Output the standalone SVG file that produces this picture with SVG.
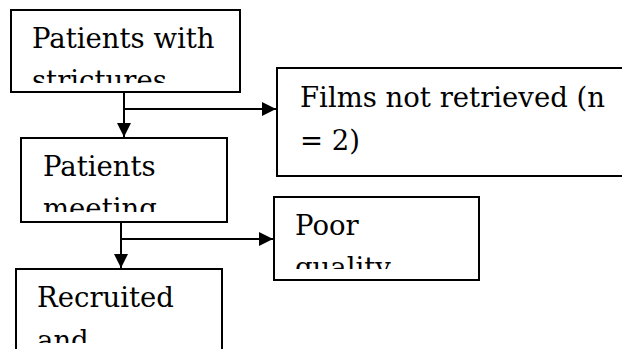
<svg xmlns="http://www.w3.org/2000/svg" width="622" height="349" viewBox="0 0 622 349">
<style>
.box{fill:#fff;stroke:#000;stroke-width:2}
.t{font-family:"DejaVu Serif","Liberation Serif",serif;font-size:27.5px;fill:#000}
.ln{stroke:#000;stroke-width:2;fill:none}
</style>
<defs>
<marker id="ah" viewBox="0 0 10 10" refX="10" refY="5" markerWidth="7" markerHeight="7" orient="auto" markerUnits="strokeWidth"><path d="M0,0 L10,5 L0,10 z" fill="#000"/></marker>
<clipPath id="c1"><rect x="12" y="11" width="227" height="72"/></clipPath>
<clipPath id="c2"><rect x="278" y="69" width="344" height="106"/></clipPath>
<clipPath id="c3"><rect x="22" y="139" width="204" height="73"/></clipPath>
<clipPath id="c4"><rect x="275" y="198" width="203" height="71"/></clipPath>
<clipPath id="c5"><rect x="17" y="270" width="204" height="73"/></clipPath>
</defs>
<rect width="622" height="349" fill="#fff"/>
<g id="n1"><rect class="box" x="11" y="10" width="229" height="82"/><g clip-path="url(#c1)"><text class="t" x="32" y="48">Patients with</text><text class="t" x="32" y="90">strictures</text></g></g>
<g id="n2"><rect class="box" x="277" y="68" width="360" height="108"/><g clip-path="url(#c2)"><text class="t" x="300" y="107">Films not retrieved (n</text><text class="t" x="300" y="150">= 2)</text></g></g>
<g id="n3"><rect class="box" x="21" y="138" width="206" height="84"/><g clip-path="url(#c3)"><text class="t" x="43" y="176">Patients</text><text class="t" x="43" y="218">meeting</text></g></g>
<g id="n4"><rect class="box" x="274" y="197" width="205" height="83"/><g clip-path="url(#c4)"><text class="t" x="295" y="235">Poor</text><text class="t" x="295" y="277">quality</text></g></g>
<g id="n5"><rect class="box" x="16" y="269" width="206" height="100"/><g clip-path="url(#c5)"><text class="t" x="37" y="307">Recruited</text><text class="t" x="37" y="350">and</text></g></g>
<g id="connectors">
<path class="ln" d="M124,92 V137" marker-end="url(#ah)"/>
<path class="ln" d="M124,109 H276" marker-end="url(#ah)"/>
<path class="ln" d="M121,222 V268" marker-end="url(#ah)"/>
<path class="ln" d="M121,239 H273" marker-end="url(#ah)"/>
</g>
</svg>
